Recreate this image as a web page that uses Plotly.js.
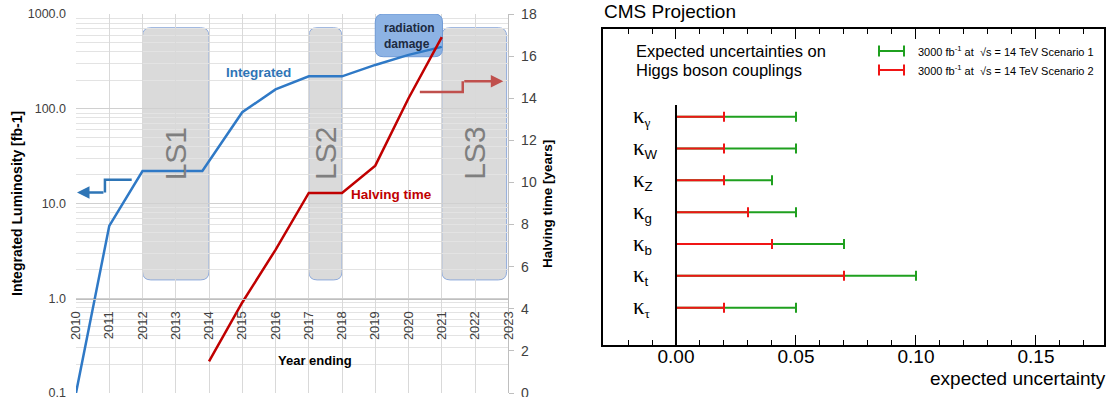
<!DOCTYPE html>
<html>
<head>
<meta charset="utf-8">
<script src="https://cdn.plot.ly/plotly-3.0.1.min.js"></script>
<style>html,body{margin:0;padding:0;background:#fff;}#chart{width:1112px;height:397px;}</style>
</head>
<body>
<div id="chart"></div>
<script>
// ---------- Data: left panel (LHC luminosity / halving time) ----------
const LUMI_YEARS = [2010, 2011, 2012, 2013.8, 2015, 2016, 2017, 2018, 2019, 2020, 2021];
const LUMI_VALUES = [0.1, 5.8, 22, 22, 92, 160, 220, 220, 290, 370, 450];
const HALVING_YEARS = [2014, 2015, 2016, 2017, 2018, 2019, 2020, 2021];
const HALVING_VALUES = [1.5, 4.3, 6.8, 9.5, 9.5, 10.8, 14.0, 16.9];
const LS_NAMES = ['LS1', 'LS2', 'LS3'];
const LS_START = [2012, 2017, 2021];
const LS_END = [2014, 2018, 2022.95];

// ---------- Data: right panel (Higgs couplings) ----------
const SERIF = s => '<span style="font-family:Liberation Serif">' + s + '</span>';
const KAPPA_SUBS = [SERIF('γ'), 'W', 'Z', 'g', 'b', 't', SERIF('τ')];
const KAPPA_LABELS = KAPPA_SUBS.map(s => '<span style="font-family:Liberation Serif;font-size:23px">κ</span><sub>' + s + '</sub>');
const KAPPA_POS = [7, 6, 5, 4, 3, 2, 1];
const SCENARIO1 = [0.05, 0.05, 0.04, 0.05, 0.07, 0.10, 0.05];
const SCENARIO2 = [0.02, 0.02, 0.02, 0.03, 0.04, 0.07, 0.02];
const LEGEND_TEXT = ['3000 fb<sup>-1</sup> at  √s = 14 TeV Scenario 1', '3000 fb<sup>-1</sup> at  √s = 14 TeV Scenario 2'];

// ---------- helpers ----------
const W = 1112, H = 397;
const PX = x => x / W;
const PY = y => 1 - y / H;
function rrect(x0, x1, y0, y1, rx, ry) {
  return `M ${x0 + rx},${y0} L ${x1 - rx},${y0} Q ${x1},${y0} ${x1},${y0 + ry} L ${x1},${y1 - ry} Q ${x1},${y1} ${x1 - rx},${y1} L ${x0 + rx},${y1} Q ${x0},${y1} ${x0},${y1 - ry} L ${x0},${y0 + ry} Q ${x0},${y0} ${x0 + rx},${y0} Z`;
}
// rounded rectangle on a log axis: corner offsets are multiplicative
function rrectLog(x0, x1, y0, y1, rx, k) {
  const a = y0 * k, b = y1 / k;
  return `M ${x0 + rx},${y0} L ${x1 - rx},${y0} Q ${x1},${y0} ${x1},${a} L ${x1},${b} Q ${x1},${y1} ${x1 - rx},${y1} L ${x0 + rx},${y1} Q ${x0},${y1} ${x0},${b} L ${x0},${a} Q ${x0},${y0} ${x0 + rx},${y0} Z`;
}
const FONT = 'Liberation Sans, Arial, sans-serif';
const BLUE = '#2f79c6', RED = '#c00000', GREEN = '#1fa01f', RRED = '#f01515';

const traces = [
  { x: LUMI_YEARS, y: LUMI_VALUES, xaxis: 'x', yaxis: 'y', mode: 'lines', line: { color: BLUE, width: 2.5 }, hoverinfo: 'skip', showlegend: false },
  { x: HALVING_YEARS, y: HALVING_VALUES, xaxis: 'x', yaxis: 'y2', mode: 'lines', line: { color: RED, width: 2.5 }, hoverinfo: 'skip', showlegend: false },
  { x: KAPPA_POS.map(() => 0), y: KAPPA_POS, xaxis: 'x2', yaxis: 'y3', mode: 'markers', marker: { size: 1, color: 'rgba(0,0,0,0)' },
    error_x: { type: 'data', symmetric: false, array: SCENARIO1, arrayminus: KAPPA_POS.map(() => 0), color: GREEN, thickness: 2, width: 5 }, showlegend: false, hoverinfo: 'skip' },
  { x: KAPPA_POS.map(() => 0), y: KAPPA_POS, xaxis: 'x2', yaxis: 'y3', mode: 'markers', marker: { size: 1, color: 'rgba(0,0,0,0)' },
    error_x: { type: 'data', symmetric: false, array: SCENARIO2, arrayminus: KAPPA_POS.map(() => 0), color: RRED, thickness: 2, width: 5 }, showlegend: false, hoverinfo: 'skip' }
];

const shapes = [];
const annotations = [];
const txt = (xpx, ypx, text, font, extra) => annotations.push(Object.assign({ xref: 'paper', yref: 'paper', x: PX(xpx), y: PY(ypx), xanchor: 'center', yanchor: 'middle', text: text, showarrow: false, font: font }, extra || {}));

// LS boxes
LS_NAMES.forEach((n, i) => {
  shapes.push({ type: 'path', xref: 'x', yref: 'y2', layer: 'below', path: rrect(LS_START[i], LS_END[i], 5.37, 17.35, 0.25, 0.4),
    fillcolor: '#dadada', line: { color: '#8eaadb', width: 1 } });
  annotations.push({ xref: 'x', yref: 'y2', x: (LS_START[i] + LS_END[i]) / 2, y: 11.37, text: n, showarrow: false, textangle: -90,
    font: { family: 'Liberation Sans Narrow, Liberation Sans, Arial', size: 30, color: '#7f7f7f' }, xanchor: 'center', yanchor: 'middle' });
});

// radiation damage box on the main (log) subplot
shapes.push({ type: 'path', xref: 'x', yref: 'y', layer: 'between',
  path: rrectLog(2019.0, 2021.02, 354, 1000, 0.24, 1.215),
  fillcolor: '#8db3e4', line: { color: '#6f9ad6', width: 1 } });
txt(381.5, 36, '<b>radiation</b><br><b>damage</b>', { family: FONT, size: 12, color: '#1c2a40' }, { xanchor: 'left', align: 'left' });

// step arrows
shapes.push({ type: 'path', xref: 'x', yref: 'y2', layer: 'above', path: 'M 2011.675,10.13 L 2010.87,10.13 L 2010.87,9.52', line: { color: '#2e75b6', width: 2.5 } });
annotations.push({ xref: 'x', yref: 'y2', axref: 'x', ayref: 'y2', x: 2010.03, y: 9.52, ax: 2010.87, ay: 9.52, text: '', showarrow: true,
  arrowhead: 2, arrowsize: 1, arrowwidth: 2.5, arrowcolor: '#2e75b6' });
shapes.push({ type: 'path', xref: 'x', yref: 'y2', layer: 'above', path: 'M 2020.34,14.29 L 2021.63,14.29 L 2021.63,14.81', line: { color: '#c0504d', width: 2.5 } });
annotations.push({ xref: 'x', yref: 'y2', axref: 'x', ayref: 'y2', x: 2022.85, y: 14.81, ax: 2021.63, ay: 14.81, text: '', showarrow: true,
  arrowhead: 2, arrowsize: 1, arrowwidth: 2.5, arrowcolor: '#c0504d' });

// left panel text
txt(258.7, 72.7, '<b>Integrated</b>', { family: FONT, size: 13.5, color: '#2e75b6' });
txt(391.7, 194.5, '<b>Halving time</b>', { family: FONT, size: 13.5, color: RED });
txt(314.5, 360, '<b>Year ending</b>', { family: FONT, size: 13, color: '#000' });
txt(17, 204, '<b>Integrated Luminosity [fb-1]</b>', { family: FONT, size: 14, color: '#000' }, { textangle: -90 });
txt(547, 204, '<b>Halving time [years]</b>', { family: FONT, size: 13.5, color: '#000' }, { textangle: -90 });

// right panel text
txt(602, 12, 'CMS Projection', { family: FONT, size: 19, color: '#000' }, { xanchor: 'left' });
txt(1108, 378, 'expected uncertainty', { family: FONT, size: 19, color: '#000' }, { xanchor: 'right' });
txt(634, 51, 'Expected uncertainties on', { family: FONT, size: 16.5, color: '#000' }, { xanchor: 'left' });
txt(634, 70, 'Higgs boson couplings', { family: FONT, size: 16.5, color: '#000' }, { xanchor: 'left' });
[GREEN, RRED].forEach((c, i) => {
  const yy = [51, 70][i];
  const x0 = PX(879), x1 = PX(904), yc = PY(yy), h = 5.5 / H;
  shapes.push({ type: 'path', xref: 'paper', yref: 'paper', layer: 'above',
    path: `M ${x0},${yc - h} L ${x0},${yc + h} M ${x0},${yc} L ${x1},${yc} M ${x1},${yc - h} L ${x1},${yc + h}`, line: { color: c, width: 2 } });
  txt(916, yy, LEGEND_TEXT[i], { family: FONT, size: 11, color: '#000' }, { xanchor: 'left' });
});
KAPPA_LABELS.forEach((t, i) => {
  annotations.push({ xref: 'paper', yref: 'y3', x: PX(631), y: KAPPA_POS[i], xanchor: 'left', yanchor: 'middle', text: t, showarrow: false, font: { family: FONT, size: 19, color: '#000' } });
});
// zero line of right panel
shapes.push({ type: 'line', xref: 'x2', yref: 'y3', x0: 0, x1: 0, y0: -0.18, y1: 7.37, line: { color: '#000', width: 2 }, layer: 'above' });

const layout = {
  width: W, height: H,
  margin: { l: 0, r: 0, t: 0, b: 0 },
  paper_bgcolor: '#fff', plot_bgcolor: '#fff',
  showlegend: false,
  font: { family: FONT },
  xaxis: {
    domain: [PX(76), PX(508.3)], range: [2010, 2023], anchor: 'free', position: PY(299),
    tickmode: 'linear', tick0: 2010, dtick: 1, tickangle: -90, ticks: '', ticklabelstandoff: 6,
    showgrid: true, gridcolor: '#d9d9d9', gridwidth: 1, zeroline: false,
    showline: true, linecolor: '#bfbfbf', linewidth: 1,
    tickfont: { family: FONT, size: 13, color: '#404040' }
  },
  yaxis: {
    domain: [PY(393), PY(14)], type: 'log', range: [-1, 3], anchor: 'x',
    dtick: 1, tickformat: '.1f', ticks: '', ticklabelstandoff: 9, ticklabeloverflow: 'allow',
    showgrid: true, gridcolor: '#d0d0d0', gridwidth: 1, zeroline: false, showline: false,
    minor: { dtick: 'D1', showgrid: true, gridcolor: '#e3e3e3', gridwidth: 1, ticks: '' },
    tickfont: { family: FONT, size: 12.5, color: '#404040' }
  },
  yaxis2: {
    overlaying: 'y', side: 'right', anchor: 'x', range: [0, 18], dtick: 2, tick0: 0,
    ticks: 'outside', ticklen: 5, tickcolor: '#bfbfbf', showgrid: false, zeroline: false,
    showline: true, linecolor: '#bfbfbf', linewidth: 1, ticklabelstandoff: 4, ticklabeloverflow: 'allow',
    tickfont: { family: FONT, size: 14, color: '#404040' }
  },
  xaxis2: {
    domain: [PX(603.3), PX(1103.5)], range: [-0.03029, 0.17813], anchor: 'y3',
    tickmode: 'linear', tick0: 0, dtick: 0.05, tickformat: '.2f',
    ticks: 'inside', ticklen: 10, tickwidth: 1, tickcolor: '#000', ticklabelstandoff: -7,
    minor: { dtick: 0.01, tick0: 0, ticks: 'inside', ticklen: 5, tickwidth: 1, tickcolor: '#000', showgrid: false },
    showline: true, linecolor: '#000', linewidth: 2, mirror: 'allticks',
    showgrid: false, zeroline: false,
    tickfont: { family: FONT, size: 19, color: '#000' }
  },
  yaxis3: {
    domain: [PY(345), PY(29.3)], range: [-0.1717, 9.7456], anchor: 'x2',
    showticklabels: false, ticks: '', showgrid: false, zeroline: false,
    showline: true, linecolor: '#000', linewidth: 2, mirror: true
  },
  shapes: shapes,
  annotations: annotations
};

Plotly.newPlot('chart', traces, layout, { displayModeBar: false, staticPlot: true });
</script>
</body>
</html>
